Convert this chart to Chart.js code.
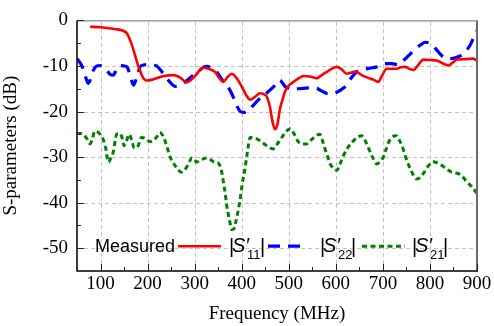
<!DOCTYPE html>
<html><head><meta charset="utf-8">
<script src="https://cdn.jsdelivr.net/npm/chart.js@4/dist/chart.umd.min.js"></script>
<style>html,body{margin:0;padding:0;background:#fff}#wrap{width:494px;height:326px;position:relative}</style>
</head><body><div id="wrap"><canvas id="c" width="494" height="326"></canvas></div>
<script>
// ---- data ----
const s11Freq = [78,100,130,155,166,180,190,198,210,219,235,255,270,283,300,318,330,343,352,361,370,379,390,400,410,418,428,439,447,453,460,466,471,476,481,487,492,500,510,520,531,545,559,570,581,592,602,612,623,632,641,655,666,680,690,698,708,720,729,738,747,756,765,775,786,800,814,825,839,848,857,875,892,900];
const s11Db = [-1.4,-1.5,-1.9,-2.7,-5.2,-9.9,-12.5,-13.2,-13.0,-12.7,-12.2,-12.0,-12.6,-13.6,-12.3,-10.4,-10.6,-11.3,-12.6,-13.5,-12.4,-11.7,-12.8,-14.5,-16.5,-17.4,-16.8,-16.0,-16.2,-16.7,-19.0,-22.5,-23.9,-22.8,-19.6,-17.3,-15.6,-14.3,-13.5,-12.8,-12.2,-12.3,-12.7,-12.0,-11.3,-10.6,-10.2,-10.7,-11.7,-11.5,-11.2,-12.0,-12.5,-13.0,-13.5,-12.2,-10.6,-10.6,-10.6,-10.3,-10.2,-10.6,-10.9,-9.8,-8.6,-8.7,-8.8,-9.3,-9.9,-9.3,-8.6,-8.5,-8.4,-8.9];

const s22Freq = [50,60,67,74,80,85,92,99,106,113,120,127,134,141,150,156,163,170,177,184,191,198,210,219,230,241,250,258,267,276,287,297,310,320,326,335,343,352,361,368,375,385,396,405,414,425,439,450,460,471,481,487,492,500,510,520,531,545,559,570,584,595,605,614,623,633,644,655,666,677,687,695,704,718,733,742,751,760,768,780,790,797,804,812,821,828,836,845,857,864,871,878,885,892,899];
const s22Db = [-8.4,-9.9,-12,-13.8,-12.5,-10.9,-10,-9.9,-10.3,-10.9,-11.8,-12,-10.8,-9.9,-10,-10.2,-12,-14.2,-12.4,-10.2,-9.8,-9.7,-9.8,-10,-11.2,-12.7,-13.8,-14.5,-14.3,-13.8,-12.9,-12,-11,-10.2,-10.1,-10.4,-10.9,-12,-13.5,-14.3,-15.3,-17.5,-19.9,-20.2,-19.9,-18.6,-17.1,-16.2,-15.3,-14.2,-13.1,-13.8,-14.5,-14.9,-15.1,-15,-14.9,-14.8,-14.9,-15.5,-16.1,-16,-15.6,-15,-14.2,-12.6,-11.3,-10.8,-10.6,-10.4,-10.2,-9.8,-9.5,-9.5,-9.7,-9,-8.1,-7.2,-6.3,-5.4,-4.8,-4.9,-5.3,-6.2,-7.3,-8,-8.4,-8.4,-8.1,-7.8,-7.3,-6.5,-5.5,-4,-2.3];

const s21Freq = [50,57,63,70,78,83,88,94,99,105,110,117,122,127,131,134,141,146,150,155,161,166,171,176,180,187,193,198,205,212,220,226,232,237,242,248,253,258,265,271,277,283,289,294,300,304,315,326,333,340,347,352,357,361,365,368,374,379,383,386,391,396,401,407,412,418,428,439,453,467,475,485,495,503,512,520,530,538,550,566,572,577,583,588,595,602,609,616,625,634,645,655,662,669,678,687,694,701,706,712,720,728,736,743,750,758,765,772,779,786,796,807,816,825,835,846,855,864,871,878,889,899];
const s21Db = [-24.8,-24.8,-25,-25.8,-27.1,-25.8,-24.3,-24.5,-25,-26,-27.5,-31.1,-30.2,-28.9,-26.5,-25,-24.8,-25.8,-27.5,-26.5,-25,-26.2,-27.9,-28,-27.5,-25.7,-25.8,-26.1,-26.6,-26.4,-25.5,-24.6,-25.2,-26.4,-28,-30,-31,-31.8,-32.8,-33.3,-33,-32.2,-31,-30.2,-30.6,-31.1,-30.5,-30.2,-30.5,-31,-31.2,-31.5,-33,-35.4,-38,-40.5,-43.8,-45.9,-45.8,-44.8,-42.5,-39.7,-36,-32.5,-29,-25.7,-25.8,-26.4,-27.5,-28.2,-27.2,-25.7,-24.3,-23.8,-25,-26.6,-27.1,-27.1,-26,-25,-26.5,-28.2,-30,-31.5,-32.5,-32.9,-31.5,-29.7,-28,-26.8,-25.7,-25.3,-26.3,-27.9,-30,-31.5,-31,-30,-28.5,-26.8,-25.6,-25.3,-26.5,-28.2,-30.5,-32.5,-34,-34.8,-34.5,-33.6,-32,-31,-31.3,-31.8,-32.6,-33.3,-33.5,-33.8,-34.5,-35.4,-36.5,-37.9];

const xTicks = [100,200,300,400,500,600,700,800,900];
const xMinorTicks = [50,150,250,350,450,550,650,750,850];
const yTicks = [0,-10,-20,-30,-40,-50];
const yMinorTicks = [-5,-15,-25,-35,-45];
const xRange = [50, 900];
const yRange = [-55, 0];

const pts = (xs, ys) => xs.map((x, i) => ({x: x, y: ys[i]}));

// ---- plugin: dashed grid (under data), inward ticks, frame, legend ----
const decor = {
  id: 'decor',
  beforeDatasetsDraw(chart) {
    const ctx = chart.ctx, a = chart.chartArea;
    const xs = chart.scales.x, ys = chart.scales.y;
    ctx.save();
    ctx.strokeStyle = '#c4c4c4';
    ctx.lineWidth = 1;
    ctx.setLineDash([4, 3]);
    xTicks.forEach(v => {
      const p = Math.round(xs.getPixelForValue(v)) + 0.5;
      if (p > a.right - 2) return;
      ctx.beginPath(); ctx.moveTo(p, a.bottom); ctx.lineTo(p, a.top); ctx.stroke();
    });
    yTicks.forEach(v => {
      const p = Math.round(ys.getPixelForValue(v)) + 0.5;
      if (p < a.top + 2) return;
      ctx.beginPath(); ctx.moveTo(a.left, p); ctx.lineTo(a.right, p); ctx.stroke();
    });
    ctx.restore();
  },
  afterDraw(chart) {
    const ctx = chart.ctx, a = chart.chartArea;
    const xs = chart.scales.x, ys = chart.scales.y;
    ctx.save();
    // frame top/right
    ctx.strokeStyle = '#6a6a6a';
    ctx.lineWidth = 1;
    ctx.beginPath(); ctx.moveTo(a.left, a.top + 0.5); ctx.lineTo(a.right, a.top + 0.5); ctx.stroke();
    ctx.lineWidth = 2;
    ctx.beginPath(); ctx.moveTo(a.right, a.top); ctx.lineTo(a.right, a.bottom); ctx.stroke();
    // axes
    ctx.strokeStyle = '#000';
    ctx.lineWidth = 1.5;
    ctx.beginPath(); ctx.moveTo(a.left, a.top); ctx.lineTo(a.left, a.bottom); ctx.lineTo(a.right + 1, a.bottom); ctx.stroke();
    // ticks inward
    ctx.lineWidth = 1;
    ctx.strokeStyle = '#222';
    const tick = (x1, y1, x2, y2) => { ctx.beginPath(); ctx.moveTo(x1, y1); ctx.lineTo(x2, y2); ctx.stroke(); };
    xTicks.forEach(v => { const p = Math.round(xs.getPixelForValue(v)) + 0.5; tick(p, a.bottom, p, a.bottom - 7); });
    xMinorTicks.forEach(v => { const p = Math.round(xs.getPixelForValue(v)) + 0.5; tick(p, a.bottom, p, a.bottom - 4); });
    yTicks.forEach(v => { const p = Math.round(ys.getPixelForValue(v)) + 0.5; tick(a.left, p, a.left + 7, p); });
    yMinorTicks.forEach(v => { const p = Math.round(ys.getPixelForValue(v)) + 0.5; tick(a.left, p, a.left + 4, p); });

    // legend
    const ly = ys.getPixelForValue(-50) - 2;
    ctx.fillStyle = '#000';
    ctx.textBaseline = 'middle';
    ctx.font = '18px "Liberation Sans", Arial, sans-serif';
    ctx.textAlign = 'left';
    ctx.fillText('Measured', 95, ly + 1);
    const ds = chart.data.datasets;
    const sample = (x1, x2, d) => {
      ctx.save();
      ctx.strokeStyle = d.borderColor; ctx.lineWidth = d.borderWidth;
      ctx.setLineDash(d.borderDash || []);
      ctx.beginPath(); ctx.moveTo(x1, ly); ctx.lineTo(x2, ly); ctx.stroke();
      ctx.restore();
    };
    const label = (x, sub) => {
      ctx.font = '20px "Liberation Sans", Arial, sans-serif';
      ctx.textBaseline = 'middle';
      ctx.fillText('|', x, ly + 1);
      ctx.font = 'italic 20px "Liberation Sans", Arial, sans-serif';
      ctx.fillText('S\u2032', x + 3, ly);
      ctx.font = '13px "Liberation Sans", Arial, sans-serif';
      ctx.fillText(sub, x + 18, ly + 9);
      ctx.font = '20px "Liberation Sans", Arial, sans-serif';
      ctx.fillText('|', x + 31, ly + 1);
    };
    sample(178, 221, ds[0]); label(229, '11');
    sample(268, 304, ds[1]); label(320, '22');
    sample(362, 405, ds[2]); label(412, '21');
    ctx.restore();
  }
};

const serif = '"Liberation Serif", "Times New Roman", serif';

new Chart(document.getElementById('c'), {
  type: 'line',
  data: {
    datasets: [
      { label: "|S'11|", data: pts(s11Freq, s11Db), borderColor: '#ff0000', borderWidth: 2.6, pointRadius: 0, tension: 0.4, cubicInterpolationMode: 'monotone', fill: false },
      { label: "|S'22|", data: pts(s22Freq, s22Db), borderColor: '#0000ff', borderWidth: 3.2, borderDash: [12, 8], pointRadius: 0, tension: 0.4, cubicInterpolationMode: 'monotone', fill: false },
      { label: "|S'21|", data: pts(s21Freq, s21Db), borderColor: '#008000', borderWidth: 3, borderDash: [5, 3.5], pointRadius: 0, tension: 0.4, cubicInterpolationMode: 'monotone', fill: false }
    ]
  },
  options: {
    responsive: false,
    animation: false,
    devicePixelRatio: 1,
    layout: { padding: { left: 0, right: 17, top: 16, bottom: 0 } },
    plugins: { legend: { display: false }, tooltip: { enabled: false } },
    scales: {
      x: {
        type: 'linear', min: xRange[0], max: xRange[1],
        afterFit: s => { s.height = 55; },
        afterBuildTicks: s => { s.ticks = xTicks.map(v => ({value: v})); },
        grid: { display: false, drawTicks: false },
        border: { display: false },
        ticks: { color: '#000', font: { family: serif, size: 19 }, padding: 2, maxRotation: 0, autoSkip: false },
        title: { display: true, text: 'Frequency (MHz)', color: '#000', font: { family: serif, size: 19 }, padding: { top: 0, bottom: 1 } }
      },
      y: {
        type: 'linear', min: yRange[0], max: yRange[1],
        afterFit: s => { s.width = 77; },
        afterBuildTicks: s => { s.ticks = yTicks.map(v => ({value: v})); },
        grid: { display: false, drawTicks: false },
        border: { display: false },
        ticks: { color: '#000', font: { family: serif, size: 19 }, padding: 9, autoSkip: false, callback: v => String(v) },
        title: { display: true, text: 'S-parameters (dB)', color: '#000', font: { family: serif, size: 19 }, padding: { top: 0, bottom: 0 } }
      }
    }
  },
  plugins: [decor]
});
</script>
</body></html>
